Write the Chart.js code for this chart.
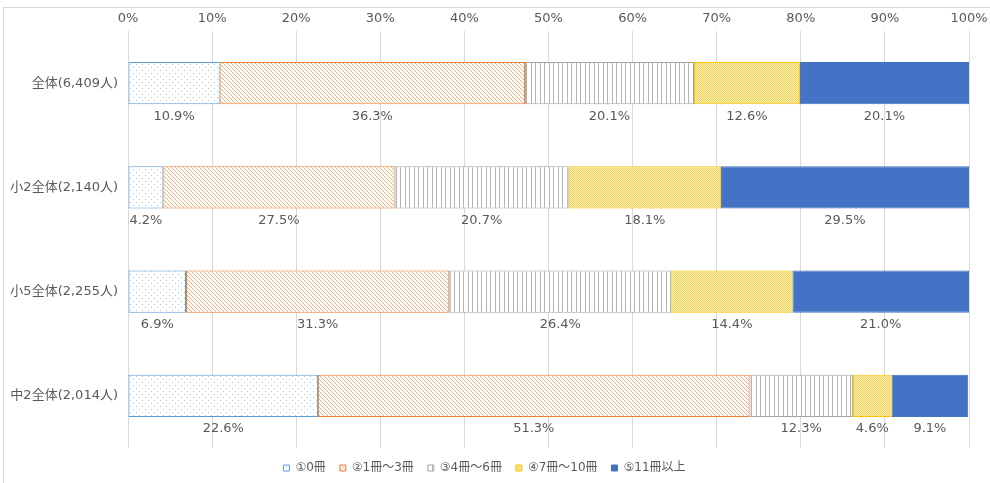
<!DOCTYPE html>
<html>
<head>
<meta charset="utf-8">
<script src="https://cdn.jsdelivr.net/npm/chart.js@4"></script>
<style>
  html, body { margin: 0; padding: 0; background: #fff; overflow: hidden; }
  #wrap { position: relative; width: 990px; height: 483px; }
  #frame { position: absolute; left: 3px; top: 7px; right: 0; bottom: 0; border-left: 1px solid #d9d9d9; border-top: 1px solid #d9d9d9; pointer-events: none; }
</style>
</head>
<body>
<div id="wrap">
  <canvas id="bookChart" width="990" height="483"></canvas>
  <div id="frame"></div>
</div>
<script>
const groups = ["全体(6,409人)", "小2全体(2,140人)", "小5全体(2,255人)", "中2全体(2,014人)"];
const seriesNames = ["①0冊", "②1冊～3冊", "③4冊～6冊", "④7冊～10冊", "⑤11冊以上"];

const zeroBooks   = [10.9, 4.2, 6.9, 22.6];
const oneToThree  = [36.3, 27.5, 31.3, 51.3];
const fourToSix   = [20.1, 20.7, 26.4, 12.3];
const sevenToTen  = [12.6, 18.1, 14.4, 4.6];
const elevenPlus  = [20.1, 29.5, 21.0, 9.1];

const xTicks = [0, 10, 20, 30, 40, 50, 60, 70, 80, 90, 100];

const FONT = "'DejaVu Sans', 'Noto Sans CJK JP', sans-serif";
const TEXT = "#595959";

function makePattern(w, h, draw) {
  const c = document.createElement("canvas");
  c.width = w;
  c.height = h;
  const g = c.getContext("2d");
  draw(g);
  return document.getElementById("bookChart").getContext("2d").createPattern(c, "repeat");
}

// sparse blue dots
const dots = makePattern(6, 6, g => {
  g.fillStyle = "#fff";
  g.fillRect(0, 0, 6, 6);
  g.fillStyle = "#a9c4e4";
  g.fillRect(1, 1, 1, 1);
  g.fillRect(4, 4, 1, 1);
});

// thin orange diagonal hatch
const hatch = makePattern(4, 4, g => {
  g.fillStyle = "#fff";
  g.fillRect(0, 0, 4, 4);
  g.fillStyle = "#f5ad7c";
  for (let i = 0; i < 4; i++) g.fillRect(i, i, 1, 1);
});

// vertical gray stripes
const stripes = makePattern(9, 4, g => {
  g.fillStyle = "#fff";
  g.fillRect(0, 0, 9, 4);
  g.fillStyle = "#b3b3b3";
  g.fillRect(0, 0, 1, 4);
  g.fillRect(4, 0, 1, 4);
});

// small yellow checker
const checker = makePattern(2, 2, g => {
  g.fillStyle = "#fff8e0";
  g.fillRect(0, 0, 2, 2);
  g.fillStyle = "#ffcb2e";
  g.fillRect(0, 0, 1, 1);
  g.fillRect(1, 1, 1, 1);
});

const fills = [dots, hatch, stripes, checker, "#4472c4"];
const borders = ["#5b9bd5", "#ed7d31", "#a5a5a5", "#ffc000", "#4472c4"];
const values = [zeroBooks, oneToThree, fourToSix, sevenToTen, elevenPlus];

// percentage under each segment
const segmentLabels = {
  id: "segmentLabels",
  afterDatasetsDraw(chart) {
    const ctx = chart.ctx;
    ctx.save();
    ctx.font = "13px " + FONT;
    ctx.fillStyle = TEXT;
    ctx.textAlign = "center";
    ctx.textBaseline = "middle";
    chart.data.datasets.forEach((ds, di) => {
      const meta = chart.getDatasetMeta(di);
      meta.data.forEach((bar, i) => {
        const cx = (bar.x + bar.base) / 2;
        const cy = bar.y + bar.height / 2 + 12;
        ctx.fillText(ds.data[i].toFixed(1) + "%", cx, cy);
      });
    });
    ctx.restore();
  }
};

new Chart(document.getElementById("bookChart"), {
  type: "bar",
  data: {
    labels: groups,
    datasets: seriesNames.map((name, i) => ({
      label: name,
      data: values[i],
      backgroundColor: fills[i],
      borderColor: borders[i],
      borderWidth: 1,
      borderSkipped: false,
      barPercentage: 0.404,
      categoryPercentage: 1
    }))
  },
  options: {
    indexAxis: "y",
    responsive: false,
    animation: false,
    layout: { padding: { left: 0, right: 21, top: 0, bottom: -1 } },
    scales: {
      x: {
        position: "top",
        stacked: true,
        min: 0,
        max: 100,
        afterBuildTicks: s => { s.ticks = xTicks.map(v => ({ value: v })); },
        afterFit: s => { s.height = 31; s.paddingLeft = 0; s.paddingRight = 0; },
        ticks: {
          color: TEXT,
          font: { family: FONT, size: 13 },
          padding: 5,
          callback: v => v + "%"
        },
        grid: { color: "#d9d9d9", drawTicks: false },
        border: { display: false }
      },
      y: {
        stacked: true,
        afterFit: s => { s.width = 128; },
        ticks: {
          color: TEXT,
          font: { family: FONT, size: 13 },
          padding: 10
        },
        grid: { display: false, drawTicks: false },
        border: { display: false }
      }
    },
    plugins: {
      legend: {
        position: "bottom",
        labels: {
          color: TEXT,
          font: { family: FONT, size: 12 },
          boxWidth: 6,
          boxHeight: 6,
          padding: 14
        }
      },
      tooltip: { enabled: false }
    }
  },
  plugins: [segmentLabels]
});
</script>
</body>
</html>
